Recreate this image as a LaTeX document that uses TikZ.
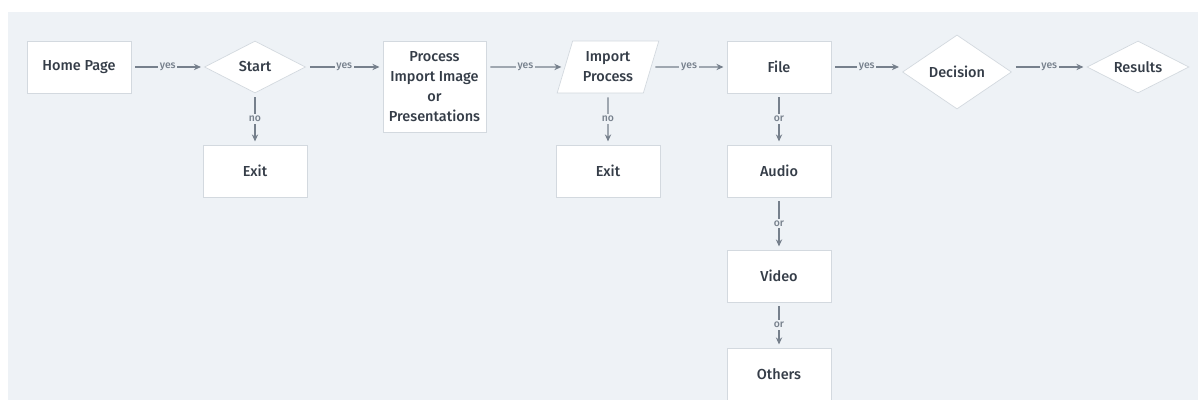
\documentclass[tikz,border=0pt]{standalone}
\usepackage{fontspec}
\setmainfont{Fira Sans Medium}
\usepackage{tikz}
\usetikzlibrary{arrows.meta,positioning,shapes.geometric}
\definecolor{bgcol}{HTML}{EEF2F6}
\definecolor{txtcol}{HTML}{353D48}
\definecolor{arrcol}{HTML}{76808C}
\definecolor{bordcol}{HTML}{D3D9DF}
\tikzset{
  box/.style={draw=bordcol,fill=white,line width=0.5pt,text=txtcol,font=\fontsize{10.3}{14.2}\selectfont,
    minimum width=2.6cm,minimum height=1.3cm,inner sep=0pt,align=center},
  dia/.style={box,diamond,aspect=2},
  para/.style={box,trapezium,trapezium left angle=70,trapezium right angle=110,trapezium stretches=true},
  lbl/.style={fill=bgcol,text=arrcol,font=\fontsize{7.4}{8}\selectfont,inner sep=1.2pt},
  conn/.style={-{Stealth[length=5pt,width=4.5pt]},color=arrcol,line width=1pt,shorten <=0.1cm,shorten >=0.08cm}
}
\begin{document}
\begin{tikzpicture}
\useasboundingbox (0,0) rectangle (29.95,-10);
\fill[white] (0,0) rectangle (29.95,-10);
\fill[bgcol] (0.2,-0.3) rectangle (29.95,-10);
% main row
\node[box] (HP) at (1.975,-1.675) {Home Page};
\node[dia,minimum width=2.525cm,minimum height=1.3cm] (ST) at (6.375,-1.675) {Start};
\node[box] (EX1) at (6.375,-4.275) {Exit};
\node[box,minimum width=2.575cm,minimum height=2.275cm] (PR) at (10.8625,-2.1625) {Process\\Import Image\\or\\Presentations};
\node[para,minimum width=2.55cm] (IP) at (15.2,-1.675) {Import\\Process};
\node[box] (EX2) at (15.2,-4.275) {Exit};
\node[box] (FI) at (19.475,-1.675) {File};
\node[box] (AU) at (19.475,-4.275) {Audio};
\node[box] (VI) at (19.475,-6.9) {Video};
\node[box] (OT) at (19.475,-9.35) {Others};
\node[dia,minimum width=2.725cm,minimum height=1.85cm] (DE) at (23.925,-1.8) {Decision};
\node[dia,minimum width=2.55cm,minimum height=1.3cm] (RE) at (28.45,-1.675) {Results};
% helper points on the main row
\coordinate (PRin) at (PR.west |- ST.east);
\coordinate (PRout) at (PR.east |- IP);
\coordinate (DEin) at (DE.west |- FI);
\coordinate (DEout) at (DE.east |- RE);
% connectors
\path[conn]
(HP) edge node[lbl] {yes} (ST)
(ST.east) edge node[lbl] {yes} (PRin)
(PRout) edge node[lbl] {yes} (IP)
(IP) edge node[lbl] {yes} (FI)
(FI) edge node[lbl] {yes} (DEin)
(DEout) edge node[lbl] {yes} (RE)
(ST) edge node[lbl] {no} (EX1)
(IP) edge node[lbl] {no} (EX2)
(FI) edge node[lbl] {or} (AU)
(AU) edge node[lbl] {or} (VI)
(VI) edge node[lbl] {or} (OT);
\end{tikzpicture}
\end{document}
